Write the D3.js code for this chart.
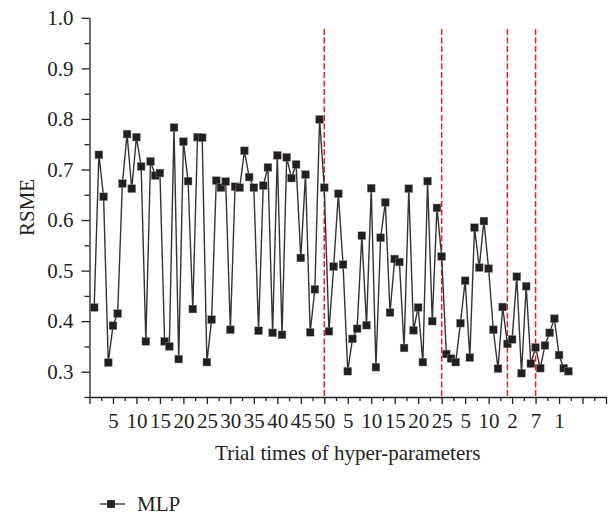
<!DOCTYPE html>
<html>
<head>
<meta charset="utf-8">
<script src="https://cdn.jsdelivr.net/npm/d3@7"></script>
<style>
    body { margin: 0; background: #fff; }
    text { font-family: "Liberation Serif", "DejaVu Serif", serif; fill: #231f20; }
</style>
</head>
<body>
<svg id="SVGlineChart" width="614" height="516"></svg>
<script>
/** series name shown in the legend */
const seriesName = "MLP";
/** RSME of each trial, in order (x = 1 .. 102) */
const rsme = [
    0.427, 0.729, 0.646, 0.318, 0.391, 0.415, 0.672, 0.770, 0.662, 0.764,
    0.706, 0.360, 0.716, 0.688, 0.693, 0.360, 0.350, 0.783, 0.325, 0.755,
    0.677, 0.424, 0.764, 0.763, 0.319, 0.403, 0.678, 0.664, 0.676, 0.383,
    0.666, 0.664, 0.737, 0.685, 0.664, 0.381, 0.668, 0.704, 0.377, 0.728,
    0.373, 0.724, 0.683, 0.710, 0.525, 0.690, 0.378, 0.463, 0.799, 0.664,
    0.380, 0.508, 0.652, 0.512, 0.301, 0.365, 0.385, 0.569, 0.392, 0.663,
    0.309, 0.565, 0.635, 0.417, 0.523, 0.517, 0.347, 0.662, 0.382, 0.427,
    0.319, 0.677, 0.400, 0.624, 0.528, 0.335, 0.326, 0.319, 0.396, 0.480,
    0.328, 0.585, 0.506, 0.598, 0.504, 0.383, 0.306, 0.428, 0.355, 0.364,
    0.488, 0.297, 0.469, 0.316, 0.348, 0.307, 0.352, 0.377, 0.405, 0.333,
    0.307, 0.301
];
/** labels under the major x ticks 5, 10, ..., 100 */
const xTickLabels = [
    "5", "10", "15", "20", "25", "30", "35", "40", "45", "50",
    "5", "10", "15", "20", "25",
    "5", "10", "2", "7", "1"
];
/** trial index where each hyper-parameter group ends (red dashed lines) */
const groupBreaks = [50, 75, 89, 95];
/** y tick values */
const yTicks = [0.3, 0.4, 0.5, 0.6, 0.7, 0.8, 0.9, 1.0];

const lineChart = {
    SVG: d3.select("#SVGlineChart"),
    /** x scale: trial index */
    scaleX: d3.scaleLinear().domain([0, 110]).range([89.5, 606]),
    /** y scale: RSME */
    scaleY: d3.scaleLinear().domain([0.25, 1.0]).range([397, 17.8]),
    ink: "#231f20",
    fontSize: "21px",

    render: () => {
        const svg = lineChart.SVG;
        const x = lineChart.scaleX;
        const y = lineChart.scaleY;
        const data = rsme.map((v, i) => ({ i: i + 1, v: v }));

        // x axis, major ticks every 5 with the group-relative labels
        const gx = svg.append("g").attr("transform", `translate(0,${y(0.25)})`);
        gx.call(d3.axisBottom(x)
            .tickValues(d3.range(0, 111, 5))
            .tickSize(7)
            .tickSizeOuter(0)
            .tickPadding(9)
            .tickFormat(d => (d >= 5 && d <= 100) ? xTickLabels[d / 5 - 1] : ""));
        // minor ticks in between
        gx.append("g").call(d3.axisBottom(x)
            .tickValues(d3.range(2.5, 110, 5))
            .tickSize(4)
            .tickFormat(""))
            .select(".domain").remove();

        // y axis
        const gy = svg.append("g").attr("transform", `translate(${x(0)},0)`);
        gy.call(d3.axisLeft(y)
            .tickValues(yTicks)
            .tickSize(8)
            .tickSizeOuter(0)
            .tickPadding(8)
            .tickFormat(d3.format(".1f")));
        gy.append("g").call(d3.axisLeft(y)
            .tickValues(d3.range(0.25, 1.0, 0.1))
            .tickSize(5)
            .tickFormat(""))
            .select(".domain").remove();

        svg.selectAll(".domain, .tick line")
            .attr("stroke", lineChart.ink)
            .attr("stroke-width", 1.3);
        svg.selectAll(".tick text")
            .style("font-family", "'Liberation Serif', serif")
            .style("font-size", lineChart.fontSize)
            .attr("fill", lineChart.ink);

        // group separators
        svg.append("g").selectAll("line")
            .data(groupBreaks)
            .enter()
            .append("line")
            .attr("x1", d => x(d))
            .attr("x2", d => x(d))
            .attr("y1", y(0.978))
            .attr("y2", y(0.25))
            .attr("stroke", "#ec1c24")
            .attr("stroke-width", 1.5)
            .attr("stroke-dasharray", "6,2.6");

        // series line
        svg.append("path")
            .datum(data)
            .attr("fill", "none")
            .attr("stroke", "#333")
            .attr("stroke-width", 1.4)
            .attr("d", d3.line().x(d => x(d.i)).y(d => y(d.v)));

        // square markers
        const s = 7.8;
        svg.append("g").selectAll("rect")
            .data(data)
            .enter()
            .append("rect")
            .attr("x", d => x(d.i) - s / 2)
            .attr("y", d => y(d.v) - s / 2)
            .attr("width", s)
            .attr("height", s)
            .attr("fill", lineChart.ink)
            .attr("stroke", "#8a8889")
            .attr("stroke-width", 0.4);

        // axis titles
        svg.append("text")
            .attr("x", (x.range()[0] + x.range()[1]) / 2)
            .attr("y", 460)
            .attr("text-anchor", "middle")
            .style("font-size", lineChart.fontSize)
            .text("Trial times of hyper-parameters");
        svg.append("text")
            .attr("transform", `translate(34,${(y.range()[0] + y.range()[1]) / 2}) rotate(-90)`)
            .attr("text-anchor", "middle")
            .style("font-size", lineChart.fontSize)
            .text("RSME");

        // legend
        const lg = svg.append("g").attr("transform", "translate(100,504)");
        lg.append("line")
            .attr("x1", 0).attr("x2", 25)
            .attr("stroke", "#333").attr("stroke-width", 1.4);
        lg.append("rect")
            .attr("x", 11 - s / 2).attr("y", -s / 2)
            .attr("width", s).attr("height", s)
            .attr("fill", lineChart.ink);
        lg.append("text")
            .attr("x", 37).attr("y", 7)
            .style("font-size", lineChart.fontSize)
            .text(seriesName);
    }
};

lineChart.render();
</script>
</body>
</html>
